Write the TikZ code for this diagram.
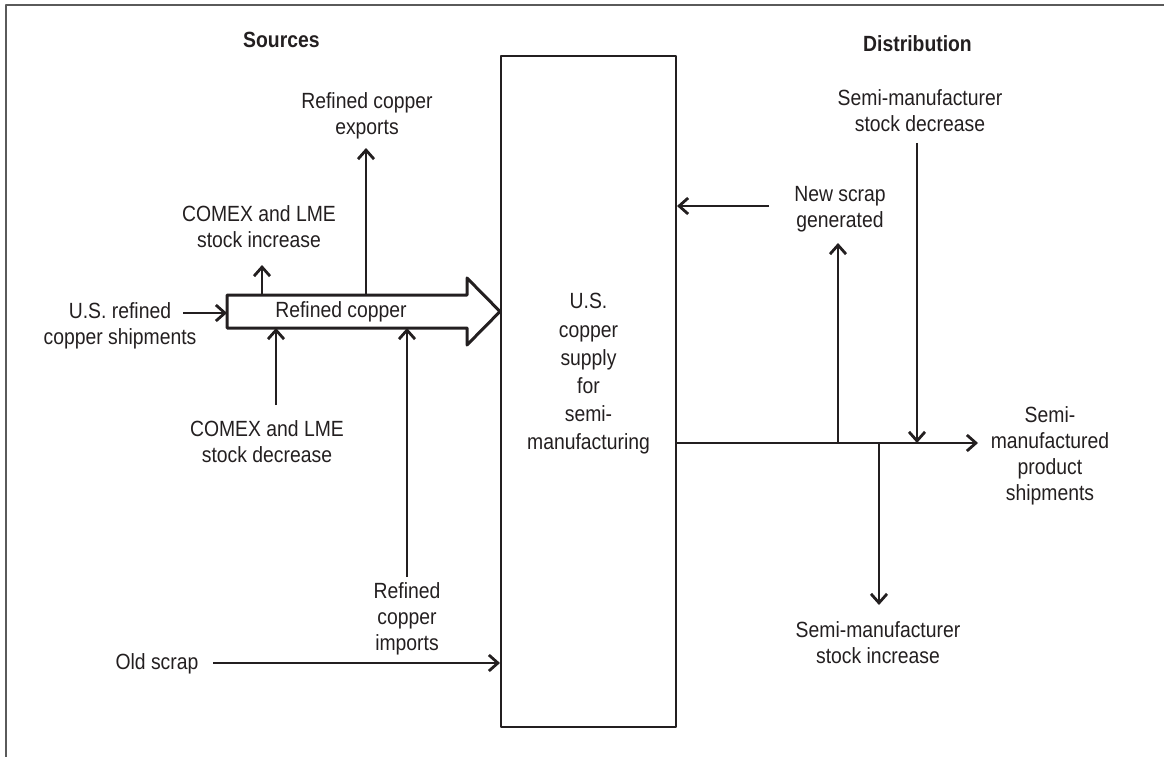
\documentclass[tikz,border=0pt]{standalone}
\usepackage{fontspec}
\setmainfont{Liberation Sans}[FakeStretch=0.88]
\usepackage{xcolor}
\usetikzlibrary{arrows.meta}
\definecolor{ink}{HTML}{231F20}
\definecolor{rule}{HTML}{5A5A5A}

\begin{document}
\begin{tikzpicture}[
  x=1pt, y=-1pt,
  line join=round,
  lbl/.style={align=center, inner sep=0pt, text=ink, font=\fontsize{22}{26}\selectfont},
  hdr/.style={inner sep=0pt, text=ink, font=\fontsize{22}{26}\selectfont\bfseries},
  flow/.style={draw=ink, line width=2pt, -{Straight Barb[length=9pt, width=16pt, line width=2.8pt]}},
  bar/.style={draw=ink, line width=2pt}
]
  \useasboundingbox (0,0) rectangle (1164,757);

  % page frame (top and left only)
  \draw[rule, line width=2pt] (6,757) -- (6,5) -- (1164,5);

  % headings
  \node[hdr, anchor=west] (sources) at (243,40) {Sources};
  \node[hdr, anchor=east] (distrib) at (972,44) {Distribution};

  % central supply box
  \node[draw=ink, line width=2pt, minimum width=175pt, minimum height=671pt, inner sep=0pt] (supply) at (588.5,391.5) {};
  \node[lbl, font=\fontsize{22}{28.2}\selectfont] (supplytxt) at (588.5,374)
    {U.S.\\copper\\supply\\for\\semi-\\manufacturing};

  % refined copper block arrow
  \coordinate (rc-nw) at (227,295);
  \coordinate (rc-sw) at (227,328);
  \coordinate (rc-tip) at (500,311.5);
  \draw[ink, line width=3pt] (rc-nw) -- (467,295) -- (467,278) -- (rc-tip)
    -- (467,345) -- (467,328) -- (rc-sw) -- cycle;
  \node[lbl] (refined) at (341,312) {Refined copper};

  % points where the side flows touch the block arrow
  \coordinate (rc-t1) at (262,295);
  \coordinate (rc-t2) at (366,295);
  \coordinate (rc-b1) at (276,328);
  \coordinate (rc-b2) at (407,328);

  % sources
  \node[lbl] (usship) at (120,326) {U.S. refined\\copper shipments};
  \coordinate (usship-out) at (183,313);
  \draw[flow] (usship-out) -- (rc-sw |- usship-out);

  \node[lbl] (cmxinc) at (259,227) {COMEX and LME\\stock increase};
  \draw[flow] (rc-t1) -- (262,265);

  \node[lbl] (exports) at (367,116) {Refined copper\\exports};
  \draw[flow] (rc-t2) -- (366,148);

  \node[lbl] (cmxdec) at (267,442) {COMEX and LME\\stock decrease};
  \draw[flow] (276,405) -- (rc-b1);

  \node[lbl] (imports) at (407,619) {Refined\\copper\\imports};
  \draw[flow] (407,577) -- (rc-b2);

  \node[lbl] (oldscrap) at (157,664) {Old scrap};
  \draw[flow] (213,663) -- (supply.west |- 0,663);

  % distribution
  \coordinate (out) at (supply.east |- 0,443);
  \coordinate (up) at (838,443);
  \coordinate (down) at (879,443);
  \coordinate (join) at (917,443);
  \draw[flow] (out) -- (978,443);
  \node[lbl] (shipments) at (1050,456) {Semi-\\manufactured\\product\\shipments};

  \node[lbl] (newscrap) at (840,209) {New scrap\\generated};
  \draw[flow] (up) -- (838,243);
  \draw[flow] (769,206) -- (supply.east |- 0,206);

  \node[lbl] (smdec) at (920,111) {Semi-manufacturer\\stock decrease};
  \draw[flow] (917,143) -- (join);

  \node[lbl] (sminc) at (878,643) {Semi-manufacturer\\stock increase};
  \draw[flow] (down) -- (879,605);
\end{tikzpicture}
\end{document}
